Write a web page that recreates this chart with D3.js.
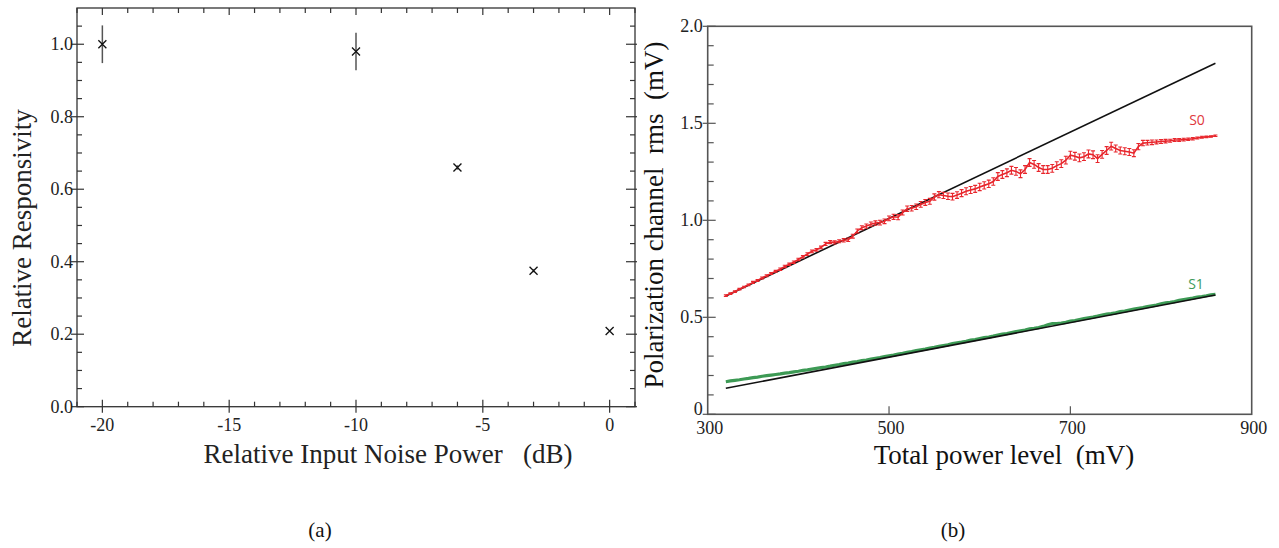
<!DOCTYPE html>
<html>
<head>
<meta charset="utf-8">
<script src="https://cdn.jsdelivr.net/npm/d3@7"></script>
<style>
body { margin: 0; background: #fff; }
svg { display: block; }
text { font-family: "Liberation Serif", "Times New Roman", serif; white-space: pre; }
</style>
</head>
<body>
<svg id="chart" width="1279" height="548"></svg>
<script>
// panel (a) data
var noiseDb = [-20, -10, -6, -3, 0]
var responsivity = [1.0, 0.98, 0.66, 0.375, 0.209]
var responsivityErr = [0.052, 0.052, 0.006, 0.004, 0.002]
var aXTicks = [-20, -15, -10, -5, 0]
var aYTicks = [0, 0.2, 0.4, 0.6, 0.8, 1.0]

// panel (b) data
var powerLevel = [320, 325, 330, 335, 340, 345, 350, 355, 360, 365, 370, 375, 380, 385, 390, 395,
  400, 405, 410, 415, 420, 425, 430, 435, 440, 445, 450, 455, 460, 465, 470, 475, 480, 485, 490, 495,
  500, 505, 510, 515, 520, 525, 530, 535, 540, 545, 550, 555, 560, 565, 570, 575, 580, 585, 590, 595,
  600, 605, 610, 615, 620, 625, 630, 635, 640, 645, 650, 655, 660, 665, 670, 675, 680, 685, 690, 695,
  700, 705, 710, 715, 720, 725, 730, 735, 740, 745, 750, 755, 760, 765, 770, 775, 780, 785, 790, 795,
  800, 805, 810, 815, 820, 825, 830, 835, 840, 845, 850, 855, 860]
var s0 = [0.612, 0.622, 0.632, 0.645, 0.656, 0.667, 0.680, 0.690, 0.703, 0.714, 0.726, 0.737, 0.748, 0.762, 0.773, 0.784,
  0.798, 0.812, 0.826, 0.840, 0.848, 0.860, 0.878, 0.888, 0.886, 0.892, 0.897, 0.900, 0.918, 0.945, 0.962, 0.970, 0.980, 0.986, 0.988, 0.995,
  1.010, 1.018, 1.016, 1.040, 1.060, 1.062, 1.070, 1.082, 1.092, 1.098, 1.120, 1.132, 1.128, 1.124, 1.122, 1.130, 1.140, 1.150, 1.156, 1.162,
  1.172, 1.180, 1.188, 1.200, 1.226, 1.236, 1.245, 1.258, 1.252, 1.240, 1.262, 1.298, 1.288, 1.272, 1.262, 1.262, 1.268, 1.282, 1.292, 1.310,
  1.336, 1.330, 1.322, 1.328, 1.342, 1.338, 1.318, 1.340, 1.360, 1.382, 1.370, 1.360, 1.356, 1.352, 1.346, 1.380, 1.398, 1.400, 1.402, 1.404,
  1.406, 1.408, 1.410, 1.414, 1.414, 1.416, 1.418, 1.420, 1.424, 1.428, 1.430, 1.432, 1.436]
var s0Err = [0.004, 0.004, 0.004, 0.004, 0.004, 0.004, 0.005, 0.005, 0.005, 0.005, 0.005, 0.005, 0.006, 0.006, 0.006, 0.006,
  0.006, 0.006, 0.007, 0.007, 0.007, 0.007, 0.008, 0.008, 0.008, 0.008, 0.009, 0.009, 0.010, 0.010, 0.010, 0.011, 0.011, 0.011, 0.012, 0.012,
  0.012, 0.013, 0.013, 0.013, 0.014, 0.014, 0.014, 0.015, 0.015, 0.015, 0.016, 0.016, 0.016, 0.017, 0.017, 0.017, 0.018, 0.018, 0.018, 0.018,
  0.019, 0.019, 0.019, 0.019, 0.020, 0.020, 0.020, 0.020, 0.020, 0.020, 0.020, 0.020, 0.020, 0.020, 0.020, 0.020, 0.020, 0.020, 0.020, 0.020,
  0.020, 0.020, 0.020, 0.020, 0.020, 0.020, 0.020, 0.020, 0.020, 0.020, 0.018, 0.018, 0.018, 0.018, 0.018, 0.016, 0.014, 0.012, 0.012, 0.010,
  0.010, 0.009, 0.008, 0.008, 0.007, 0.007, 0.006, 0.006, 0.005, 0.005, 0.004, 0.004, 0.004]
var s1 = [0.168, 0.172, 0.175, 0.178, 0.182, 0.185, 0.189, 0.192, 0.196, 0.199, 0.202, 0.205, 0.208, 0.212, 0.215, 0.219,
  0.222, 0.226, 0.229, 0.233, 0.237, 0.241, 0.244, 0.248, 0.253, 0.256, 0.261, 0.264, 0.269, 0.272, 0.277, 0.280, 0.285, 0.289, 0.292, 0.297,
  0.301, 0.305, 0.310, 0.314, 0.319, 0.323, 0.328, 0.332, 0.336, 0.341, 0.345, 0.350, 0.354, 0.358, 0.365, 0.369, 0.372, 0.376, 0.382, 0.385,
  0.390, 0.395, 0.398, 0.403, 0.409, 0.413, 0.416, 0.421, 0.426, 0.430, 0.434, 0.440, 0.443, 0.447, 0.453, 0.462, 0.467, 0.467, 0.470, 0.474,
  0.480, 0.483, 0.488, 0.493, 0.497, 0.501, 0.506, 0.512, 0.516, 0.519, 0.523, 0.529, 0.532, 0.537, 0.542, 0.546, 0.550, 0.555, 0.559, 0.563,
  0.570, 0.574, 0.577, 0.581, 0.587, 0.591, 0.595, 0.599, 0.604, 0.607, 0.611, 0.616, 0.618]
var fitX = [320, 860]
var fitS0 = [0.61, 1.81]
var fitS1 = [0.134, 0.615]
var bXTicks = [300, 500, 700, 900]
var bYTicks = [0, 0.5, 1.0, 1.5, 2.0]
var bYLabels = ["0", "0.5", "1.0", "1.5", "2.0"]

var svg = d3.select("#chart")

// ---------- panel (a) ----------
var xa = d3.scaleLinear().domain([-21, 1]).range([77, 635])
var ya = d3.scaleLinear().domain([0, 1.1]).range([406.7, 8])
var ga = svg.append("g")
var frameA = "#333"

ga.append("rect").attr("x", xa(-21)).attr("y", ya(1.1))
  .attr("width", xa(1) - xa(-21)).attr("height", ya(0) - ya(1.1))
  .attr("fill", "none").attr("stroke", frameA).attr("stroke-width", 1.3)

// minor ticks every 1 dB and 0.05
var aXMinor = xa.ticks(22).filter(function(d){ return aXTicks.indexOf(d) < 0 })
var aYMinor = ya.ticks(22).filter(function(d){ return aYTicks.indexOf(+d.toFixed(2)) < 0 && d > 0 && d < 1.1 })

function vtick(g, x, y1, y2, c) {
  g.append("line").attr("x1", x).attr("x2", x).attr("y1", y1).attr("y2", y2).attr("stroke", c).attr("stroke-width", 1.2)
}
function htick(g, y, x1, x2, c) {
  g.append("line").attr("x1", x1).attr("x2", x2).attr("y1", y).attr("y2", y).attr("stroke", c).attr("stroke-width", 1.2)
}

aXTicks.forEach(function(d){
  vtick(ga, xa(d), ya(0) - 7, ya(0) + 6, frameA)
  vtick(ga, xa(d), ya(1.1), ya(1.1) + 7, frameA)
})
aXMinor.forEach(function(d){
  vtick(ga, xa(d), ya(0) - 5, ya(0), frameA)
  vtick(ga, xa(d), ya(1.1), ya(1.1) + 5, frameA)
})
aYTicks.forEach(function(d){
  htick(ga, ya(d), xa(-21) - 6, xa(-21) + 7, frameA)
  htick(ga, ya(d), xa(1) - 9, xa(1) + 2, frameA)
})
aYMinor.forEach(function(d){
  htick(ga, ya(d), xa(-21), xa(-21) + 5, frameA)
  htick(ga, ya(d), xa(1) - 5, xa(1), frameA)
})

ga.selectAll(".xl").data(aXTicks).enter().append("text")
  .attr("x", function(d){ return xa(d) }).attr("y", ya(0) + 24)
  .attr("text-anchor", "middle").attr("font-size", 18).attr("fill", "#222")
  .text(function(d){ return d })
ga.selectAll(".yl").data(aYTicks).enter().append("text")
  .attr("x", xa(-21) - 4).attr("y", function(d){ return ya(d) + 6 })
  .attr("text-anchor", "end").attr("font-size", 18).attr("fill", "#222")
  .text(d3.format(".1f"))

ga.append("text").attr("x", 388).attr("y", 463).attr("text-anchor", "middle")
  .attr("font-size", 27).attr("fill", "#222").text("Relative Input Noise Power   (dB)")
ga.append("text").attr("transform", "translate(31,228) rotate(-90)").attr("text-anchor", "middle")
  .attr("font-size", 27).attr("fill", "#222").text("Relative Responsivity")

// error bars + crosses
var pts = noiseDb.map(function(d, i){ return {x: d, y: responsivity[i], e: responsivityErr[i]} })
ga.selectAll(".eb").data(pts).enter().append("line")
  .attr("x1", function(d){ return xa(d.x) }).attr("x2", function(d){ return xa(d.x) })
  .attr("y1", function(d){ return ya(d.y + d.e) }).attr("y2", function(d){ return ya(d.y - d.e) })
  .attr("stroke", "#555").attr("stroke-width", 1.5)
ga.selectAll(".mk").data(pts).enter().append("path")
  .attr("d", function(d){
    var cx = xa(d.x), cy = ya(d.y), r = 4
    return "M" + (cx - r) + "," + (cy - r) + "L" + (cx + r) + "," + (cy + r) + "M" + (cx - r) + "," + (cy + r) + "L" + (cx + r) + "," + (cy - r)
  })
  .attr("stroke", "#111").attr("stroke-width", 1.3).attr("fill", "none")

// ---------- panel (b) ----------
var xb = d3.scaleLinear().domain([300, 900]).range([707.7, 1251.7])
var yb = d3.scaleLinear().domain([0, 2]).range([414.3, 26.3])
var gb = svg.append("g")
var frameB = "#555"

gb.append("rect").attr("x", xb(300)).attr("y", yb(2))
  .attr("width", xb(900) - xb(300)).attr("height", yb(0) - yb(2))
  .attr("fill", "none").attr("stroke", frameB).attr("stroke-width", 1.6)

var bYMinor = yb.ticks(20).filter(function(d){ return bYTicks.indexOf(+d.toFixed(2)) < 0 })
bYTicks.forEach(function(d){ htick(gb, yb(d), xb(300) - 5, xb(300) + 8, frameB) })
bYMinor.forEach(function(d){ htick(gb, yb(d), xb(300), xb(300) + 6, frameB) })
bXTicks.slice(1, 3).forEach(function(d){ vtick(gb, xb(d), yb(0) - 8, yb(0), frameB) })

gb.selectAll(".xl").data(bXTicks).enter().append("text")
  .attr("x", function(d){ return xb(d) + 2 }).attr("y", yb(0) + 20)
  .attr("text-anchor", "middle").attr("font-size", 18).attr("fill", "#222")
  .text(function(d){ return d })
gb.selectAll(".yl").data(bYTicks).enter().append("text")
  .attr("x", xb(300) - 5).attr("y", function(d){ return d === 0 ? yb(d) + 1 : yb(d) + 6 })
  .attr("text-anchor", "end").attr("font-size", 18).attr("fill", "#222")
  .text(function(d, i){ return bYLabels[i] })

gb.append("text").attr("x", 1004).attr("y", 464).attr("text-anchor", "middle")
  .attr("font-size", 27).attr("fill", "#111").text("Total power level  (mV)")
gb.append("text").attr("transform", "translate(663,215) rotate(-90)").attr("text-anchor", "middle")
  .attr("font-size", 27).attr("fill", "#111").text("Polarization channel  rms  (mV)")

var line = d3.line().x(function(d){ return xb(d[0]) }).y(function(d){ return yb(d[1]) })

// S1 green data under its fit
var s1Pts = powerLevel.map(function(p, i){ return [p, s1[i]] })
gb.append("path").attr("d", line(s1Pts)).attr("fill", "none")
  .attr("stroke", "#3d9a55").attr("stroke-width", 3.2)
gb.append("path").attr("d", line(fitX.map(function(p, i){ return [p, fitS1[i]] })))
  .attr("fill", "none").attr("stroke", "#111").attr("stroke-width", 1.6)

// S0 fit line
gb.append("path").attr("d", line(fitX.map(function(p, i){ return [p, fitS0[i]] })))
  .attr("fill", "none").attr("stroke", "#111").attr("stroke-width", 1.6)

// S0 red data with error bars
var s0Pts = powerLevel.map(function(p, i){ return [p, s0[i]] })
gb.append("path").attr("d", line(s0Pts)).attr("fill", "none")
  .attr("stroke", "#e8262c").attr("stroke-width", 1.6)
var bars = gb.selectAll(".s0e").data(powerLevel).enter().append("path")
  .attr("d", function(p, i){
    var x = xb(p), y1 = yb(s0[i] + s0Err[i]), y2 = yb(s0[i] - s0Err[i])
    return "M" + x + "," + y1 + "V" + y2 + "M" + (x - 2) + "," + y1 + "H" + (x + 2) + "M" + (x - 2) + "," + y2 + "H" + (x + 2)
  })
  .attr("fill", "none").attr("stroke", "#e8262c").attr("stroke-width", 1.1)

gb.append("text").attr("x", 1197).attr("y", 125).attr("text-anchor", "middle")
  .style("font-family", "'Open Sans', 'DejaVu Sans', sans-serif").attr("font-size", 14)
  .attr("fill", "#e0383c").text("S0")
gb.append("text").attr("x", 1196).attr("y", 289).attr("text-anchor", "middle")
  .style("font-family", "'Open Sans', 'DejaVu Sans', sans-serif").attr("font-size", 14)
  .attr("fill", "#3d9a5a").text("S1")

// captions
svg.append("text").attr("x", 320).attr("y", 537).attr("text-anchor", "middle")
  .attr("font-size", 21).attr("fill", "#111").text("(a)")
svg.append("text").attr("x", 953).attr("y", 537).attr("text-anchor", "middle")
  .attr("font-size", 21).attr("fill", "#111").text("(b)")
</script>
</body>
</html>
